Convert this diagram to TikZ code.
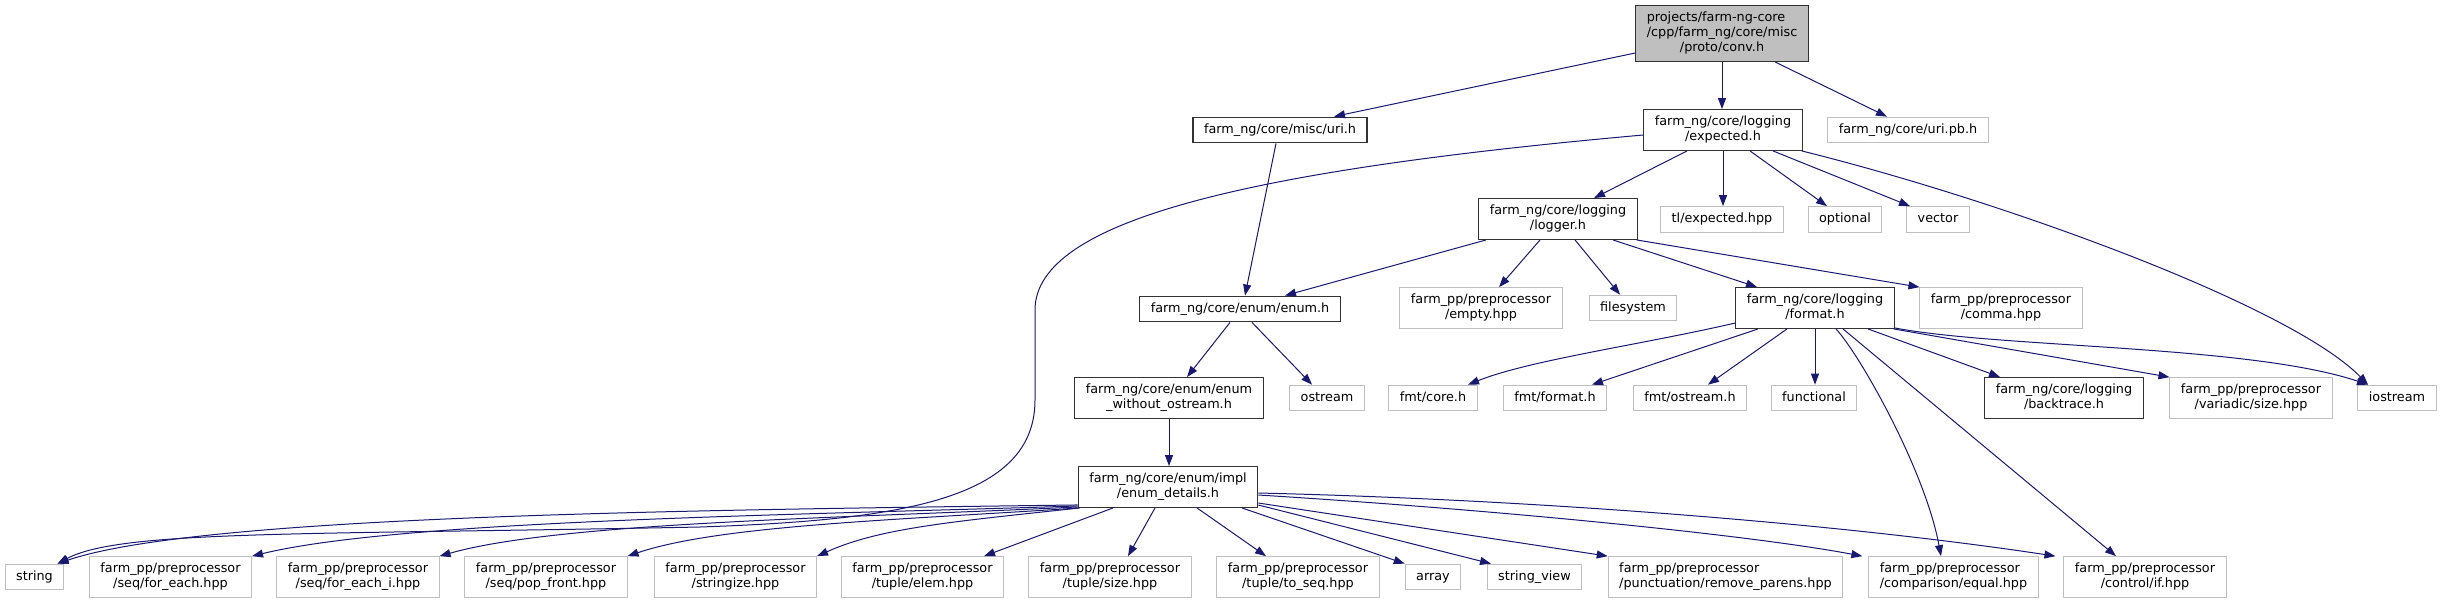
\documentclass[tikz,border=0pt]{standalone}
\usepackage{fontspec}
\setmainfont{DejaVu Sans}
\usetikzlibrary{arrows.meta}
\definecolor{edgeblue}{HTML}{191970}
\definecolor{extgray}{HTML}{BFBFBF}
\definecolor{docborder}{HTML}{333333}
\newcommand{\OneL}[1]{\strut #1}
\newcommand{\TwoL}[2]{\begin{tabular}{@{}l@{}}#1\\\multicolumn{1}{@{}c@{}}{#2}\end{tabular}}
\newcommand{\ThreeL}[3]{\begin{tabular}{@{}l@{}}#1\\#2\\\multicolumn{1}{@{}c@{}}{#3}\end{tabular}}
\tikzset{
 box/.style={draw, rectangle, inner xsep=11pt, inner ysep=5.35pt, font=\fontsize{12.8}{15}\selectfont},
 doc/.style={box, draw=docborder, line width=1.2pt},
 ext/.style={box, draw=extgray, line width=1pt},
 root/.style={box, draw=docborder, fill=extgray, line width=1.2pt},
 dep/.style={draw=edgeblue, line width=1pt, -{Triangle[length=11pt,width=8pt]}},
}
\begin{document}
\begin{tikzpicture}[x=1pt,y=-1pt]
\fill[white] (0,0) rectangle (2443,603);
\useasboundingbox (0,0) rectangle (2443,603);

% nodes
\node[root] (conv) at (1722,33.5) {\ThreeL{projects/farm-ng-core}{/cpp/farm\_ng/core/misc}{/proto/conv.h}};
\node[doc] (urih) at (1280,130) {\OneL{farm\_ng/core/misc/uri.h}};
\node[doc] (expected) at (1723,130) {\TwoL{farm\_ng/core/logging}{/expected.h}};
\node[ext] (uripb) at (1908,130) {\OneL{farm\_ng/core/uri.pb.h}};
\node[doc] (logger) at (1558,219) {\TwoL{farm\_ng/core/logging}{/logger.h}};
\node[ext] (tlexp) at (1722,219.5) {\OneL{tl/expected.hpp}};
\node[ext] (optional) at (1845,219.5) {\OneL{optional}};
\node[ext] (vector) at (1938,219.5) {\OneL{vector}};
\node[doc] (enumh) at (1240,309) {\OneL{farm\_ng/core/enum/enum.h}};
\node[ext] (empty) at (1481,308) {\TwoL{farm\_pp/preprocessor}{/empty.hpp}};
\node[ext] (filesystem) at (1633,308) {\OneL{filesystem}};
\node[doc] (format) at (1815,308) {\TwoL{farm\_ng/core/logging}{/format.h}};
\node[ext] (comma) at (2001,308) {\TwoL{farm\_pp/preprocessor}{/comma.hpp}};
\node[doc] (enumwo) at (1169,398) {\TwoL{farm\_ng/core/enum/enum}{\_without\_ostream.h}};
\node[ext] (ostream) at (1327,398) {\OneL{ostream}};
\node[ext] (fmtcore) at (1433,398) {\OneL{fmt/core.h}};
\node[ext] (fmtformat) at (1555,398) {\OneL{fmt/format.h}};
\node[ext] (fmtostream) at (1690,398) {\OneL{fmt/ostream.h}};
\node[ext] (functional) at (1814,398) {\OneL{functional}};
\node[doc] (backtrace) at (2064,398) {\TwoL{farm\_ng/core/logging}{/backtrace.h}};
\node[ext] (variadic) at (2251,398) {\TwoL{farm\_pp/preprocessor}{/variadic/size.hpp}};
\node[ext] (iostream) at (2397,398) {\OneL{iostream}};
\node[doc] (enumdet) at (1168,487) {\TwoL{farm\_ng/core/enum/impl}{/enum\_details.h}};

\node[ext] (string) at (34.5,577) {\OneL{string}};
\node[ext] (foreach) at (170.5,577) {\TwoL{farm\_pp/preprocessor}{/seq/for\_each.hpp}};
\node[ext] (foreachi) at (358,577) {\TwoL{farm\_pp/preprocessor}{/seq/for\_each\_i.hpp}};
\node[ext] (popfront) at (546,577) {\TwoL{farm\_pp/preprocessor}{/seq/pop\_front.hpp}};
\node[ext] (stringize) at (735.5,577) {\TwoL{farm\_pp/preprocessor}{/stringize.hpp}};
\node[ext] (tupelem) at (922.5,577) {\TwoL{farm\_pp/preprocessor}{/tuple/elem.hpp}};
\node[ext] (tupsize) at (1110,577) {\TwoL{farm\_pp/preprocessor}{/tuple/size.hpp}};
\node[ext] (toseq) at (1298,577) {\TwoL{farm\_pp/preprocessor}{/tuple/to\_seq.hpp}};
\node[ext] (array) at (1433,577) {\OneL{array}};
\node[ext] (stringview) at (1534.5,577) {\OneL{string\_view}};
\node[ext] (removeparens) at (1725.5,577) {\TwoL{farm\_pp/preprocessor}{/punctuation/remove\_parens.hpp}};
\node[ext] (equal) at (1953.5,577) {\TwoL{farm\_pp/preprocessor}{/comparison/equal.hpp}};
\node[ext] (ifhpp) at (2145,577) {\TwoL{farm\_pp/preprocessor}{/control/if.hpp}};

% edges from conv
\draw[dep] ([yshift=-19.5pt]conv.west) -- ([xshift=54pt]urih.north);
\draw[dep] (conv.south) -- (conv.south |- expected.north);
\draw[dep] ([xshift=53pt]conv.south) -- ([xshift=-21pt]uripb.north);
% uri.h
\draw[dep] ([xshift=-4pt]urih.south) -- ([xshift=5pt]enumh.north);
% expected.h
\draw[dep] ([xshift=-36pt]expected.south) -- ([xshift=36pt]logger.north);
\draw[dep] (expected.south) -- (expected.south |- tlexp.north);
\draw[dep] ([xshift=27pt]expected.south) -- ([xshift=-18pt]optional.north);
\draw[dep] ([xshift=50pt]expected.south) -- ([xshift=-28pt]vector.north);
\draw[dep] ([xshift=-1pt]expected.south east) .. controls (2000,200) and (2290,305) .. ([xshift=-29pt]iostream.north);
\draw[dep] ([yshift=-5pt]expected.west) .. controls (1250,170) and (1035,220) .. (1035,310) -- (1035,400) .. controls (1035,500) and (900,520) .. (700,527) .. controls (300,535) and (120,530) .. ([xshift=23pt]string.north);
% logger.h
\draw[dep] ([xshift=-72pt]logger.south) -- ([xshift=45pt]enumh.north);
\draw[dep] ([xshift=-18pt]logger.south) -- ([xshift=18pt]empty.north);
\draw[dep] ([xshift=17pt]logger.south) -- ([xshift=-13pt]filesystem.north);
\draw[dep] ([xshift=55pt]logger.south) -- ([xshift=-58pt]format.north);
\draw[dep] ([xshift=-1pt]logger.south east) -- (comma.north west);
% enum.h
\draw[dep] ([xshift=-10pt]enumh.south) -- ([xshift=18pt]enumwo.north);
\draw[dep] ([xshift=12pt]enumh.south) -- ([xshift=-15pt]ostream.north);
\draw[dep] (enumwo.south) -- (enumwo.south |- enumdet.north);
% format.h
\draw[dep] ([yshift=-15pt]format.west) .. controls (1640,345) and (1530,360) .. ([xshift=35pt]fmtcore.north);
\draw[dep] ([xshift=-57pt]format.south) -- ([xshift=37pt]fmtformat.north);
\draw[dep] ([xshift=-28pt]format.south) -- ([xshift=18pt]fmtostream.north);
\draw[dep] (format.south) -- (format.south |- functional.north);
\draw[dep] ([xshift=53pt]format.south) -- ([xshift=-64pt]backtrace.north);
\draw[dep] ([xshift=-1pt]format.south east) -- (variadic.north west);
\draw[dep] ([yshift=1pt]format.south east) .. controls (2000,348) and (2250,345) .. ([xshift=-29pt]iostream.north);
\draw[dep] ([xshift=21pt]format.south) .. controls (1860,355) and (1925,470) .. ([xshift=-12.5pt]equal.north);
\draw[dep] ([xshift=28pt]format.south) -- ([xshift=-29pt]ifhpp.north);
% enum_details.h
\draw[dep] ([yshift=3pt]enumdet.south west) .. controls (700,510) and (200,515) .. ([xshift=23pt]string.north);
\draw[dep] ([yshift=2pt]enumdet.south west) .. controls (800,515) and (400,520) .. (foreach.north east);
\draw[dep] ([yshift=1pt]enumdet.south west) .. controls (850,518) and (560,522) .. (foreachi.north east);
\draw[dep] ([xshift=1pt]enumdet.south west) .. controls (900,520) and (720,525) .. (popfront.north east);
\draw[dep] ([xshift=2pt]enumdet.south west) .. controls (950,522) and (880,528) .. (stringize.north east);
\draw[dep] ([xshift=-55pt]enumdet.south) -- ([xshift=61.5pt]tupelem.north);
\draw[dep] ([xshift=-13pt]enumdet.south) -- ([xshift=18pt]tupsize.north);
\draw[dep] ([xshift=29pt]enumdet.south) -- ([xshift=-32pt]toseq.north);
\draw[dep] ([xshift=74pt]enumdet.south) -- (array.north west);
\draw[dep] ([yshift=-18pt]enumdet.east) -- ([xshift=-43.5pt]stringview.north);
\draw[dep] ([yshift=-16pt]enumdet.east) -- (removeparens.north west);
\draw[dep] ([yshift=-8pt]enumdet.east) .. controls (1500,510) and (1750,535) .. ([xshift=-6pt]equal.north west);
\draw[dep] ([yshift=-6pt]enumdet.east) .. controls (1550,500) and (1850,525) .. ([xshift=-8pt]ifhpp.north west);
\end{tikzpicture}
\end{document}
